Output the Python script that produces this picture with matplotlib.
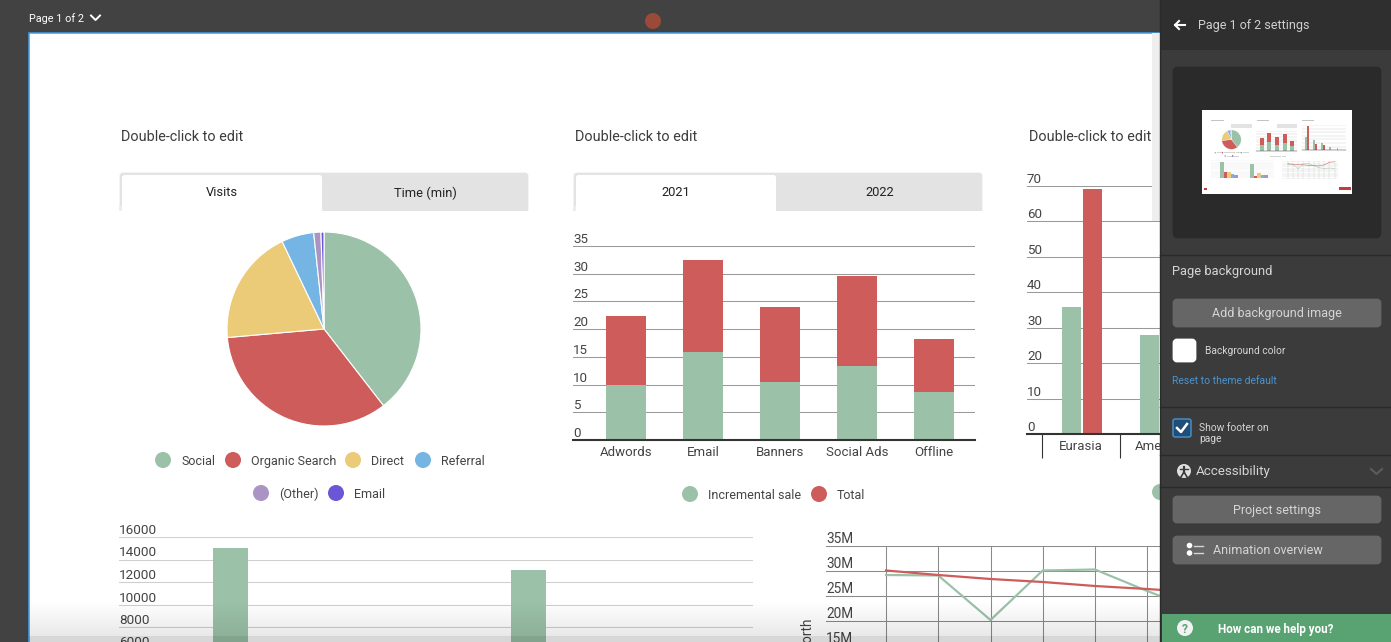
import numpy as np
from matplotlib import pyplot as plt
from matplotlib.patches import Circle, FancyBboxPatch, Rectangle

W, H = 1391, 642

GREEN = '#9bc2a8'
RED = '#cd5c5a'
YELLOW = '#ebcb78'
BLUE = '#74b5e3'
PURPLE = '#a994c4'
VIOLET = '#6a57d6'
TEXT = '#444444'

# pie
pie_labels = ['Social', 'Organic Search', 'Direct', 'Referral', '(Other)', 'Email']
pie_values = [39.5, 34.1, 19.3, 5.4, 1.2, 0.5]
pie_colors = [GREEN, RED, YELLOW, BLUE, PURPLE, VIOLET]

# stacked bars
stack_cats = ['Adwords', 'Email', 'Banners', 'Social Ads', 'Offline']
stack_incremental = [10.0, 15.9, 10.5, 13.4, 8.7]
stack_total = [12.4, 16.6, 13.5, 16.2, 9.5]
stack_ticks = [0, 5, 10, 15, 20, 25, 30, 35]

# grouped bars, the last groups are behind the panel
group_cats = ['Eurasia', 'America']
group_green = [35.9, 28.0, 20.0, 9.0, 6.0]
group_red = [69.2, 17.0, 15.0, 1.5, 1.0]
group_ticks = [0, 10, 20, 30, 40, 50, 60, 70]

# lower left bars, only the first series reaches the visible part
lower_ticks = [0, 2000, 4000, 6000, 8000, 10000, 12000, 14000, 16000]
lower_labels = ['6000', '8000', '10000', '12000', '14000', '16000']
lower_series = [
    ([15020, 13110], GREEN),
    ([6000, 2500], RED),
    ([5700, 4600], YELLOW),
    ([4000, 3200], BLUE),
    ([2800, 2800], PURPLE),
]

# lower right lines
line_ticks = [0, 5, 10, 15, 20, 25, 30, 35]
line_labels = ['15M', '20M', '25M', '30M', '35M']
line_green = [29.2, 29.1, 20.2, 30.1, 30.3, 26.0, 22.0, 21.0, 21.5, 21.0]
line_red = [30.1, 29.2, 28.4, 27.8, 27.0, 26.4, 25.7, 28.0, 33.0, 34.0]

plt.rcParams['font.family'] = ['Roboto', 'DejaVu Sans']

fig = plt.figure(figsize=(W / 100, H / 100), dpi=100, facecolor='#424242')


def px_axes(left, top, right, bottom, zorder=1):
    # axes placed by pixel box of the screenshot, may run outside the figure
    ax = fig.add_axes([left / W, 1 - bottom / H, (right - left) / W, (bottom - top) / H], zorder=zorder)
    ax.patch.set_alpha(0)
    return ax


def mini_box(left, top, right, bottom):
    # page position to thumbnail position
    scale = 0.1
    return (1202 + (left - 29) * scale, 110 + (top - 33) * scale,
            1202 + (right - 29) * scale, 110 + (bottom - 33) * scale)


def clean(ax):
    for s in ax.spines.values():
        s.set_visible(False)


def y_labels(ax, ticks, texts, size):
    for v, t in zip(ticks, texts):
        ax.annotate(t, xy=(0, v), xycoords=ax.get_yaxis_transform(), xytext=(0, 0), textcoords='offset pixels',
                    ha='left', va='bottom', fontsize=size, color=TEXT)


def draw_pie(ax, lw=0.8):
    ax.pie(pie_values, colors=pie_colors, startangle=90, counterclock=False,
           wedgeprops={'edgecolor': 'white', 'linewidth': lw})
    ax.set_xlim(-1, 1)
    ax.set_ylim(-1, 1)


def draw_stack(ax, width=0.52, lw=0.75, base=1.5, labels=True):
    clean(ax)
    x = np.arange(len(stack_cats))
    ax.bar(x, stack_incremental, width, color=GREEN, zorder=3)
    ax.bar(x, stack_total, width, bottom=stack_incremental, color=RED, zorder=3)
    ax.set_xlim(-0.688, 4.533)
    ax.set_ylim(0, 35)
    ax.set_yticks(stack_ticks)
    ax.set_yticklabels([])
    ax.tick_params(axis='y', length=0)
    ax.grid(axis='y', color='#999999', lw=lw, zorder=0)
    ax.axhline(0, color='#333333', lw=base, zorder=4, clip_on=False)
    if labels:
        ax.set_xticks(x, stack_cats, fontsize=9.5, color=TEXT)
        ax.tick_params(axis='x', length=0, pad=4.2)
        y_labels(ax, stack_ticks, [str(v) for v in stack_ticks], 9.6)
    else:
        ax.set_xticks([])


def draw_group(ax, lw=0.75, base=1.5, labels=True):
    clean(ax)
    x = np.arange(len(group_green))
    ax.bar(x - 0.135, group_green, 0.245, color=GREEN, zorder=3)
    ax.bar(x + 0.135, group_red, 0.245, color=RED, zorder=3)
    ax.set_xlim(-0.705, 4.97)
    ax.set_ylim(0, 70)
    ax.set_yticks(group_ticks)
    ax.set_yticklabels([])
    ax.tick_params(axis='y', length=0)
    ax.grid(axis='y', color='#999999', lw=lw, zorder=0)
    ax.axhline(0, color='#333333', lw=base, zorder=4, clip_on=False)
    if labels:
        ax.set_xticks(x[:len(group_cats)] - 0.01, group_cats, fontsize=9.5, color=TEXT)
        ax.set_xticks(np.arange(-0.51, 5), minor=True)
        ax.tick_params(axis='x', which='major', length=0, pad=4.2)
        ax.tick_params(axis='x', which='minor', length=17.3, width=0.8, color='#333333')
        y_labels(ax, group_ticks, [str(v) for v in group_ticks], 9.6)
    else:
        ax.set_xticks([])


def draw_lower(ax, lw=0.75, labels=True):
    clean(ax)
    for k, (values, color) in enumerate(lower_series):
        ax.bar(np.arange(2) + (k - 2) * 0.1175, values, 0.1175, color=color, zorder=3)
    ax.set_xlim(-0.608, 1.52)
    ax.set_ylim(0, 16000)
    ax.set_yticks(lower_ticks)
    ax.set_yticklabels([])
    ax.set_xticks([])
    ax.tick_params(axis='y', length=0)
    ax.grid(axis='y', color='#cfcfcf', lw=lw, zorder=0)
    if labels:
        y_labels(ax, lower_ticks[3:], lower_labels, 9.7)


def draw_lines(ax, lw=0.75, line=1.6, labels=True):
    clean(ax)
    x = np.arange(len(line_green))
    ax.plot(x, line_green, color=GREEN, lw=line, zorder=3)
    ax.plot(x, line_red, color=RED, lw=line, zorder=3)
    ax.set_xlim(-1.15, 9.65)
    ax.set_ylim(0, 35)
    ax.set_xticks(x)
    ax.set_xticklabels([])
    ax.set_yticks(line_ticks)
    ax.set_yticklabels([])
    ax.tick_params(length=0)
    ax.grid(axis='y', color='#8a8a8a', lw=lw, zorder=0)
    for v in x:
        ax.plot([v, v], [0, 35], color='#8a8a8a', lw=lw, zorder=1)
    if labels:
        y_labels(ax, line_ticks[3:], line_labels, 9.8)


# page behind the charts
back = px_axes(0, 0, W, H, zorder=0)
back.set_xlim(0, W)
back.set_ylim(H, 0)
back.axis('off')
back.add_patch(Rectangle((29, 33), W, H, facecolor='white', edgecolor='#3f9fe6', lw=1.1))
for left, tab_l, tab_r, a, b in [(119, 122, 322, 'Visits', 'Time (min)'), (573, 576, 776, '2021', '2022')]:
    back.add_patch(FancyBboxPatch((left + 2, 174), 406, 37, boxstyle='round,pad=0,rounding_size=2',
                                  facecolor='#e3e3e3', edgecolor='#e3e3e3', lw=2))
    back.add_patch(Rectangle((left, 206), 3, 6, facecolor='#ededed', edgecolor='none'))
    back.add_patch(FancyBboxPatch((tab_l + 1, 176), tab_r - tab_l - 2, 40, boxstyle='round,pad=0,rounding_size=2',
                                  facecolor='white', edgecolor='white', lw=1.5))
    back.add_patch(Rectangle((left - 1, 211), 412, 8, facecolor='white', edgecolor='none'))
    back.text((tab_l + tab_r) / 2, 191.5, a, ha='center', va='center_baseline', fontsize=9.3, color='#222222')
    back.text((tab_r + left + 410) / 2, 191.5, b, ha='center', va='center_baseline', fontsize=9.3, color='#222222')
for x in [121, 575, 1029]:
    back.text(x, 135.5, 'Double-click to edit', ha='left', va='center_baseline', fontsize=10.4, color='#3c3c3c')

draw_pie(px_axes(227, 232, 421, 426))
draw_stack(px_axes(573, 246, 975, 440))
draw_group(px_axes(1027, 186, 1470, 434))
draw_lower(px_axes(119, 537, 753, 717))
draw_lines(px_axes(826, 546, 1390, 721))

# everything on top of the charts
top = px_axes(0, 0, W, H, zorder=5)
top.set_xlim(0, W)
top.set_ylim(H, 0)
top.axis('off')


def dot(x, y, r, color, z=3):
    top.add_patch(Circle((x, y), r, facecolor=color, edgecolor='none', zorder=z))


def label(x, y, text, size=9.2, color=TEXT, ha='left', z=3, **kw):
    top.text(x, y, text, ha=ha, va='center_baseline', fontsize=size, color=color, zorder=z, **kw)


legend_pos = [(163, 460), (233, 460), (353, 460), (423, 460), (261, 493), (336, 493)]
for (x, y), name, color in zip(legend_pos, pie_labels, pie_colors):
    dot(x, y, 8, color)
    label(x + 18, y, name, 9.0)
for x, name, color in [(690, 'Incremental sale', GREEN), (819, 'Total', RED)]:
    dot(x, 494, 8, color)
    label(x + 18, 494, name, 9.0)
dot(1160, 492, 8, GREEN)
top.text(808, 619, 'Net worth', ha='center', va='top', fontsize=9.8, color=TEXT, rotation=90, zorder=3)

# scrollbar and bottom fade
top.add_patch(Rectangle((1152, 33), 8, 188, facecolor='#eeeeee', edgecolor='none', zorder=3))
fade = np.zeros((42, 2, 4))
fade[:, :, 3] = np.concatenate([np.linspace(0, 0.09, 36), np.full(6, 0.16)])[:, None]
top.imshow(fade, extent=(29, 1160, 642, 600), aspect='auto', zorder=4)
top.set_xlim(0, W)
top.set_ylim(H, 0)

# top bar
label(29, 18, 'Page 1 of 2', 7.8, 'white', z=5)
top.plot([91, 95.5, 100], [15.5, 20, 15.5], color='white', lw=1.4, zorder=5)
dot(653, 21, 8, '#9a4a38', 5)

# side panel
top.add_patch(Rectangle((1160, 0), W - 1160, H, facecolor='#3b3b3b', edgecolor='none', zorder=6))
top.add_patch(Rectangle((1160, 0), W - 1160, 50, facecolor='#2f2f2f', edgecolor='none', zorder=6))
top.plot([1160, 1160], [0, H], color='#2a2a2a', lw=1, zorder=7)
for y in [255, 407, 455, 487]:
    top.plot([1160, W], [y, y], color='#2a2a2a', lw=1, zorder=7)
top.plot([1175, 1185], [25, 25], color='white', lw=1.5, zorder=7)
top.plot([1179, 1175, 1179], [21, 25, 29], color='white', lw=1.5, zorder=7)
label(1198, 24.5, 'Page 1 of 2 settings', 9.0, '#d0d0d0', z=7)

top.add_patch(FancyBboxPatch((1174, 68), 206, 169, boxstyle='round,pad=0,rounding_size=4', facecolor='#2a2a2a',
                             edgecolor='#2a2a2a', lw=2, zorder=7))
top.add_patch(Rectangle((1202, 110), 150, 84, facecolor='white', edgecolor='none', zorder=7))

label(1172, 270.5, 'Page background', 9.3, '#d5d5d5', z=7)
for y0, y1 in [(298, 328), (495, 524), (535, 565)]:
    top.add_patch(FancyBboxPatch((1174, y0 + 2), 206, y1 - y0 - 4, boxstyle='round,pad=0,rounding_size=3',
                                 facecolor='#666666', edgecolor='#666666', lw=2, zorder=7))
label(1277, 312.5, 'Add background image', 9.0, '#d5d5d5', 'center', 8)
top.add_patch(FancyBboxPatch((1174, 340), 21, 21, boxstyle='round,pad=0,rounding_size=3', facecolor='white',
                             edgecolor='white', lw=2, zorder=7))
label(1205, 350.5, 'Background color', 7.4, '#d5d5d5', z=7)
label(1172, 380.5, 'Reset to theme default', 7.5, '#4a93cf', z=7)
top.add_patch(FancyBboxPatch((1173, 419), 18, 18, boxstyle='round,pad=0,rounding_size=2', facecolor='#1f4e79',
                             edgecolor='#4a93cf', lw=1, zorder=7))
top.plot([1177, 1181, 1187], [428, 432, 424], color='white', lw=1.8, zorder=8)
label(1199, 427, 'Show footer on', 7.4, '#d5d5d5', z=7)
label(1199, 438.5, 'page', 7.4, '#d5d5d5', z=7)
dot(1184, 471, 7, '#e0e0e0', 7)
top.plot([1184, 1184], [467, 472], color='#3b3b3b', lw=1.6, zorder=8)
top.plot([1180, 1188], [469, 469], color='#3b3b3b', lw=1, zorder=8)
top.plot([1181, 1184, 1187], [477, 472, 477], color='#3b3b3b', lw=1.2, zorder=8)
label(1196, 470.5, 'Accessibility', 9.6, '#d5d5d5', z=7)
top.plot([1371, 1376.5, 1382], [469, 474, 469], color='#5c5c5c', lw=1.5, zorder=7)
label(1277, 509, 'Project settings', 9.0, '#d5d5d5', 'center', 8)
dot(1189.5, 545.5, 2.8, 'white', 8)
dot(1189.5, 553, 2.8, 'white', 8)
top.plot([1194, 1203], [545.5, 545.5], color='#d5d5d5', lw=1, zorder=8)
top.plot([1194, 1203], [553, 553], color='#d5d5d5', lw=1, zorder=8)
label(1213, 549, 'Animation overview', 9.0, '#d5d5d5', z=8)
top.add_patch(Rectangle((1162, 614), W - 1162, 28, facecolor='#59a373', edgecolor='none', zorder=7))
dot(1185, 628, 8, '#f2f2f2', 8)
label(1185, 628, '?', 8.5, '#59a373', 'center', 9, fontweight='bold')
label(1218, 628, 'How can we help you?', 8.4, 'white', z=8, fontweight='bold')


# thumbnail of the same page
def mini(left, top_, right, bottom):
    l, t, r, b = mini_box(left, top_, right, bottom)
    return px_axes(l, t, r, b, zorder=6)


def mini_rect(left, top_, right, bottom, color):
    l, t, r, b = mini_box(left, top_, right, bottom)
    top.add_patch(Rectangle((l, t), r - l, b - t, facecolor=color, edgecolor='none', zorder=8))


for left in [119, 573]:
    mini_rect(left + 204, 172, left + 410, 211, '#e3e3e3')
for left in [121, 575, 1029]:
    mini_rect(left, 130, left + 123, 140, '#c4c4c4')
for x, w in [(163, 40), (233, 100), (353, 50), (423, 60), (261, 50), (336, 45), (690, 110), (819, 40)]:
    y = 460 if x in (163, 233, 353, 423) else (493 if x in (261, 336) else 494)
    mini_rect(x + 14, y - 5, x + 14 + w, y + 5, '#d4d4d4')
draw_pie(mini(227, 232, 421, 426), lw=0.2)
draw_stack(mini(573, 246, 975, 440), lw=0.15, base=0.3, labels=False)
draw_group(mini(1027, 186, 1470, 434), lw=0.15, base=0.3, labels=False)
draw_lower(mini(119, 537, 753, 717), lw=0.15, labels=False)
draw_lines(mini(826, 546, 1390, 721), lw=0.12, line=0.35, labels=False)
for y, row in [(460, pie_colors[:4]), (493, pie_colors[4:])]:
    for x, color in zip([163, 233, 353, 423] if y == 460 else [261, 336], row):
        mx, my, _, _ = mini_box(x, y, x, y)
        dot(mx, my, 0.8, color, 8)
mini_rect(1395, 806, 1515, 836, '#c83a3a')
mini_rect(50, 810, 75, 835, '#c83a3a')

fig.savefig('out.png', dpi=100)
